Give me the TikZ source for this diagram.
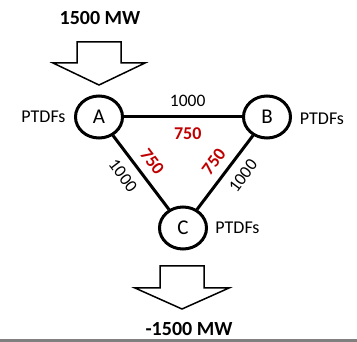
\documentclass[tikz,border=0pt]{standalone}
\usepackage{fontspec}
\setmainfont{Carlito}
\usetikzlibrary{shapes.geometric}
\definecolor{dred}{RGB}{192,0,0}
\definecolor{rulegray}{RGB}{128,128,128}
\begin{document}
\begin{tikzpicture}[x=1pt,y=-1pt,
  bus/.style={draw, line width=3pt, ellipse, inner sep=0pt, minimum width=47pt, minimum height=42pt, font=\fontsize{21}{21}\selectfont},
  tie/.style={line width=3pt},
  capacity/.style={font=\fontsize{17.5}{17.5}\selectfont, inner sep=0pt},
  flow/.style={font=\bfseries\fontsize{18}{18}\selectfont, text=dred, inner sep=0pt},
  ptdf/.style={font=\fontsize{18}{18}\selectfont, inner sep=0pt},
  inj/.style={font=\bfseries\fontsize{20}{20}\selectfont, inner sep=0pt},
  blockarrow/.style={draw, line width=1.5pt, fill=white, line join=miter}]
\useasboundingbox (0,0) rectangle (357,342);
% buses
\node[bus] (A) at (99,117) {A};
\node[bus] (B) at (267,117) {B};
\node[bus] (C) at (183,228) {C};
% PTDF labels
\node[ptdf] (pA) at (43.5,117) {PTDFs};
\node[ptdf] (pB) at (322,119) {PTDFs};
\node[ptdf] (pC) at (237.5,228) {PTDFs};
% lines
\draw[tie] (A) -- node[capacity, pos=.54, above=8.5pt]{1000} node[flow, pos=.54, below=9pt]{750} (B);
\draw[tie] (A) -- node[flow, sloped, pos=.48, above=8pt]{750} node[capacity, sloped, pos=.41, below=9pt]{1000} (C);
\draw[tie] (C) -- node[flow, sloped, pos=.52, above=8pt]{750} node[capacity, sloped, pos=.59, below=9pt]{1000} (B);
% injection arrows
\node[inj] (tin) at (100,18) {1500 MW};
\draw[blockarrow] (77,42) -- (121,42) -- (121,63) -- (145,63) -- (99,85) -- (53,63) -- (77,63) -- cycle;
\draw[blockarrow] (160,266) -- (204,266) -- (204,288) -- (229,288) -- (182,309) -- (135,288) -- (160,288) -- cycle;
\node[inj] (tout) at (189,329) {-1500 MW};
% bottom rule
\fill[rulegray] (0,339) rectangle (357,342);
\end{tikzpicture}
\end{document}
